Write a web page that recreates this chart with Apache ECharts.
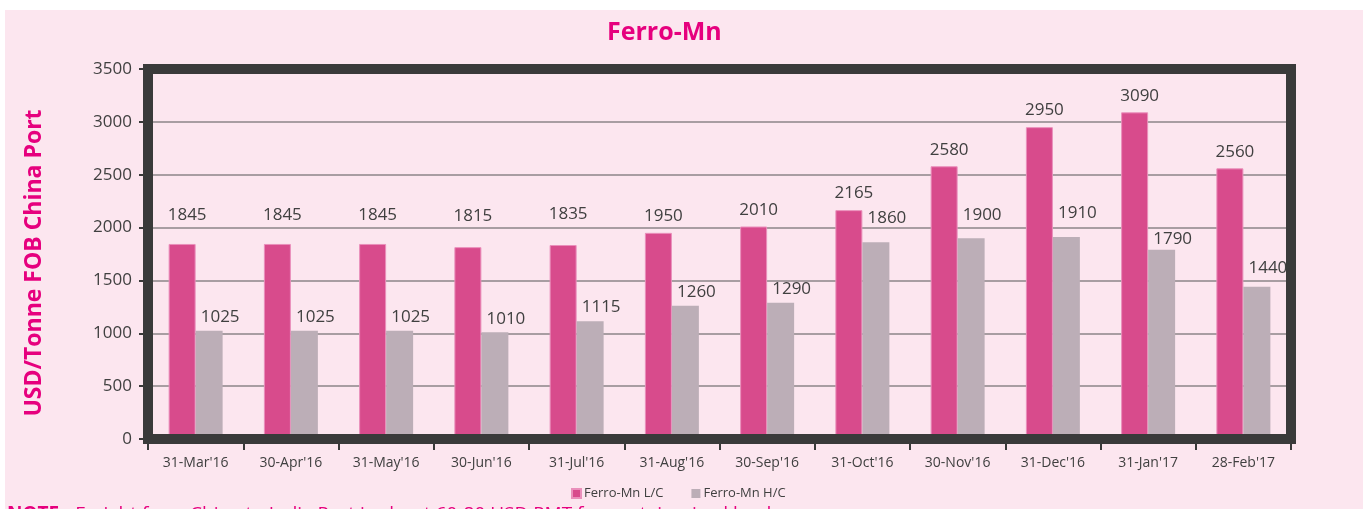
<!DOCTYPE html>
<html>
<head>
<meta charset="utf-8">
<title>Ferro-Mn</title>
<script src="https://cdn.jsdelivr.net/npm/echarts@6/dist/echarts.min.js"></script>
<style>
    html, body { margin: 0; padding: 0; background: #ffffff; }
    #chart { width: 1363px; height: 509px; }
</style>
</head>
<body>
<div id="chart"></div>
<script>
// 数据
const months = ["31-Mar'16", "30-Apr'16", "31-May'16", "30-Jun'16", "31-Jul'16", "31-Aug'16",
    "30-Sep'16", "31-Oct'16", "30-Nov'16", "31-Dec'16", "31-Jan'17", "28-Feb'17"];
const lcPrices = [1845, 1845, 1845, 1815, 1835, 1950, 2010, 2165, 2580, 2950, 3090, 2560];
const hcPrices = [1025, 1025, 1025, 1010, 1115, 1260, 1290, 1860, 1900, 1910, 1790, 1440];
const yTicks = [0, 500, 1000, 1500, 2000, 2500, 3000, 3500];

// 标签的额外上移 (Excel 里手动拖过的标签)
const lcLift = [12, 12, 12, 14, 14, 0, 0, 0, 0, 0, 0, 0];
const hcLift = [0, 0, 0, 0, 0, 0, 0, 11, 9, 10, -3, 5];

const PINK = '#d84b8c';
const GREY = '#bcaeb7';
const TXT = '#404040';
const FONT = 'Open Sans';

function withLift(values, lift, dx) {
    return values.map((v, i) => ({
        value: v,
        label: { offset: [dx, -lift[i]] }
    }));
}

const chart = echarts.init(document.getElementById('chart'));
chart.setOption({
    backgroundColor: '#fce6ef',
    animation: false,
    textStyle: { fontFamily: FONT },
    title: {
        text: 'Ferro-Mn',
        left: 602,
        top: 15,
        textStyle: { color: '#e6007e', fontSize: 25, fontWeight: 'bold', fontFamily: FONT }
    },
    legend: {
        data: ['Ferro-Mn L/C', 'Ferro-Mn H/C'],
        left: 566,
        top: 482,
        itemWidth: 9,
        itemHeight: 9,
        itemGap: 28,
        icon: 'rect',
        textStyle: { color: TXT, fontSize: 13, padding: [0, 0, 0, -2] }
    },
    grid: {
        show: true,
        z: 5,
        left: 148,
        right: 72,
        top: 69,
        bottom: 70,
        borderWidth: 10,
        borderColor: '#3a3a3a',
        backgroundColor: 'transparent'
    },
    xAxis: {
        type: 'category',
        data: months,
        axisLine: { show: false },
        axisTick: { show: true, length: 11, lineStyle: { color: '#3a3a3a', width: 2 } },
        axisLabel: { color: TXT, fontSize: 14, margin: 17, interval: 0 }
    },
    yAxis: {
        type: 'value',
        min: yTicks[0],
        max: yTicks[yTicks.length - 1],
        interval: 500,
        name: 'USD/Tonne FOB China Port',
        nameLocation: 'middle',
        nameGap: 102,
        nameTextStyle: { color: '#e6007e', fontSize: 23, fontWeight: 'bold', padding: [0, 0, 0, -18] },
        axisLine: { show: false },
        axisTick: { show: true, length: 9, lineStyle: { color: '#3a3a3a', width: 2 } },
        axisLabel: { color: TXT, fontSize: 17, margin: 16, formatter: v => String(v) },
        splitLine: { lineStyle: { color: '#8c8589', width: 1.5 } }
    },
    series: [
        {
            name: 'Ferro-Mn L/C',
            type: 'bar',
            data: withLift(lcPrices, lcLift, 5),
            barWidth: 27,
            barGap: '0%',
            itemStyle: { color: PINK, borderColor: '#ea8fbb', borderWidth: 1 },
            label: { show: true, position: 'top', distance: 8, color: TXT, fontSize: 17 }
        },
        {
            name: 'Ferro-Mn H/C',
            type: 'bar',
            data: withLift(hcPrices, hcLift, 11),
            barWidth: 27,
            itemStyle: { color: GREY },
            label: { show: true, position: 'top', distance: 5, color: TXT, fontSize: 17 }
        }
    ],
    graphic: [
        { type: 'rect', shape: { x: 0, y: 0, width: 1363, height: 10 }, style: { fill: '#ffffff' }, z: 100 },
        { type: 'rect', shape: { x: 0, y: 0, width: 5, height: 509 }, style: { fill: '#ffffff' }, z: 100 },
        {
            type: 'text',
            left: 7,
            top: 505,
            z: 50,
            style: {
                rich: {
                    b: { fontWeight: 'bold', fontSize: 19, fill: '#e6007e', fontFamily: FONT },
                    n: { fontSize: 19, fill: '#e6007e', fontFamily: FONT }
                },
                text: '{b|NOTE}{n| - Freight from China to India Port is about 60-80 USD PMT for containerized load}'
            }
        }
    ]
});
</script>
</body>
</html>
